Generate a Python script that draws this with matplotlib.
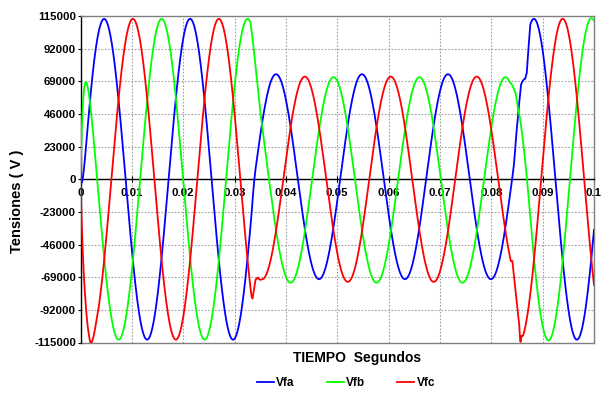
import numpy as np
import matplotlib
matplotlib.use("Agg")
import matplotlib.pyplot as plt

plt.rcParams['font.family'] = ['Liberation Sans', 'DejaVu Sans']

# ---- waveform description (60 Hz system, three phases) ----
period = 0.01674            # s, measured cycle length
startup_tau = 0.0006        # s, simulation start-up settling

# time of the first positive crest of each phase
crest_fa = 0.0046
crest_fb = 0.0158
crest_fc = 0.0102

# crest-value envelope breakpoints (time s, volts)
env_fa_t = [0.0, 0.0333, 0.0343, 0.0842, 0.0848, 0.1]
env_fa_v = [113000, 113000, 72200, 72200, 113000, 113000]
env_fb_t = [0.0, 0.0331, 0.0350, 0.0365, 0.0846, 0.0856, 0.0880, 0.1]
env_fb_v = [113000, 113000, 80000, 72400, 72400, 88000, 113500, 113500]
env_fc_t = [0.0, 0.0333, 0.0335, 0.0338, 0.0341, 0.0345, 0.0353, 0.0400,
            0.0838, 0.0841, 0.0849, 0.0857, 0.0870, 0.1]
env_fc_v = [113000, 113000, 108000, 91000, 78400, 72500, 70500, 72300,
            72300, 67000, 87000, 114000, 113000, 113000]

# dc shift during the fault (time s, volts)
off_fa_t = [0.0, 0.0333, 0.0343, 0.0842, 0.0848, 0.1]
off_fa_v = [0, 0, 1800, 1800, 0, 0]
off_fb_t = [0.0, 0.0333, 0.0343, 0.0836, 0.0844, 0.1]
off_fb_v = [0, 0, -500, -500, 0, 0]

# local switching notches and shoulders (time s, volts)
notch_fa_t = [0.0, 0.0858, 0.0866, 0.0869, 0.0876, 0.1]
notch_fa_v = [0, 0, -20000, -23000, 0, 0]
notch_fb_t = [0.0, 0.0836, 0.0843, 0.0847, 0.0852, 0.1]
notch_fb_v = [0, 0, 4000, 6000, 0, 0]
notch_fc_t = [0.0, 0.0010, 0.0020, 0.0030, 0.0851, 0.0854, 0.0856, 0.0859, 0.0862, 0.1]
notch_fc_v = [0, 0, -7000, 0, 0, 3000, -2500, 2500, 0, 0]

legend_names = ['Vfa', 'Vfb', 'Vfc']
colors = ['#0000FF', '#00FF00', '#FF0000']

y_ticks = [115000, 92000, 69000, 46000, 23000, 0,
           -23000, -46000, -69000, -92000, -115000]
x_ticks = [0, 0.01, 0.02, 0.03, 0.04, 0.05, 0.06, 0.07, 0.08, 0.09, 0.1]
x_tick_labels = ['0', '0.01', '0.02', '0.03', '0.04', '0.05',
                 '0.06', '0.07', '0.08', '0.09', '0.1']

t = np.linspace(0.0, 0.1, 5001)


def phase_voltage(crest, et, ev, ot=None, ov=None, nt=None, nv=None):
    env = np.interp(t, et, ev)
    v = env * np.cos(2 * np.pi * (t - crest) / period)
    if ot is not None:
        v = v + np.interp(t, ot, ov)
    v = v * (1 - np.exp(-t / startup_tau))
    if nt is not None:
        v = v + np.interp(t, nt, nv)
    return v


vfa = phase_voltage(crest_fa, env_fa_t, env_fa_v, off_fa_t, off_fa_v,
                    notch_fa_t, notch_fa_v)
vfb = phase_voltage(crest_fb, env_fb_t, env_fb_v, off_fb_t, off_fb_v,
                    notch_fb_t, notch_fb_v)
vfc = phase_voltage(crest_fc, env_fc_t, env_fc_v, None, None,
                    notch_fc_t, notch_fc_v)

W, H = 601, 403
fig = plt.figure(figsize=(W / 100, H / 100), dpi=100)
left, right, top, bottom = 80.5, 594, 16, 342.5
ax = fig.add_axes([left / W, 1 - bottom / H, (right - left) / W, (bottom - top) / H])

for series, c, name in zip([vfa, vfb, vfc], colors, legend_names):
    ax.plot(t, series, color=c, lw=1.3, label=name, zorder=3)

ax.set_xlim(0, 0.1)
ax.set_ylim(-115000, 115000)
ax.set_yticks(y_ticks)
ax.set_yticklabels([str(v) for v in y_ticks])
ax.set_xticks(x_ticks)
ax.set_xticklabels(x_tick_labels)

ax.grid(True, color='#a0a0a0', linestyle=(0, (1.5, 1.5)), lw=0.8, zorder=0)
ax.set_axisbelow(True)

for s in ['top', 'right']:
    ax.spines[s].set_color('#808080')
    ax.spines[s].set_linewidth(1.0)
ax.spines['left'].set_color('black')
ax.spines['left'].set_linewidth(1.0)
ax.spines['bottom'].set_position(('data', 0))
ax.spines['bottom'].set_color('black')
ax.spines['bottom'].set_linewidth(1.0)
ax.axhline(-115000, color='#808080', lw=1.0, clip_on=False, zorder=1)

ax.tick_params(axis='y', direction='out', length=2.5, width=0.8, labelsize=8.2, pad=0.8)
ax.tick_params(axis='x', direction='inout', length=5, width=0.8, labelsize=8.2, pad=3.5)
for lab in ax.get_xticklabels() + ax.get_yticklabels():
    lab.set_fontweight('bold')

fig.text(17 / W, 1 - 201 / H, 'Tensiones ( V )', rotation=90, ha='center',
         va='center', fontsize=10.5, fontweight='bold')
fig.text(357 / W, 1 - 358 / H, 'TIEMPO  Segundos', ha='center', va='center',
         fontsize=10, fontweight='bold')

leg = fig.legend(loc='center', bbox_to_anchor=(346 / W, 1 - 383 / H), ncol=3,
                 frameon=False, handlelength=1.45, handletextpad=0.2,
                 columnspacing=2.7, prop={'weight': 'bold', 'size': 8.5})

fig.savefig('out.png', dpi=100)
